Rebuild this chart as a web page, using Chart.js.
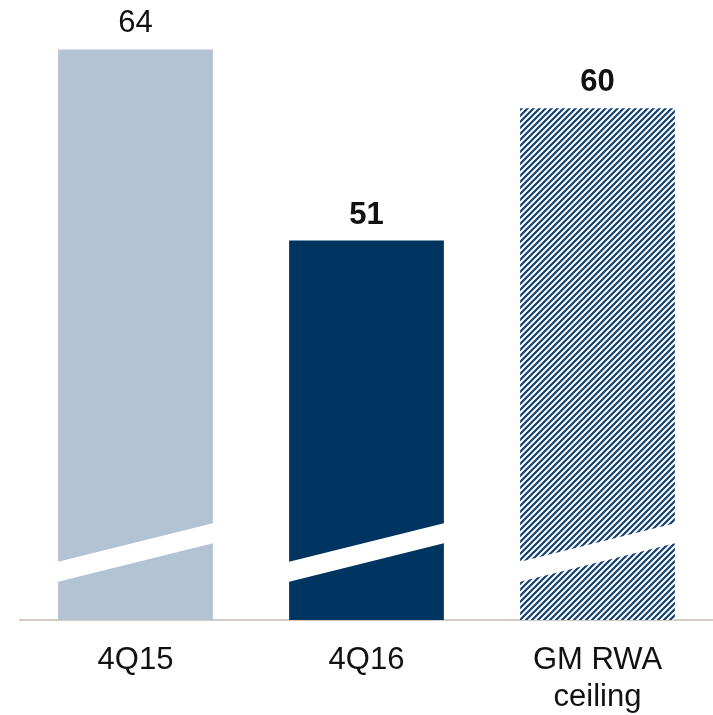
<!DOCTYPE html>
<html>
<head>
<meta charset="utf-8">
<script src="https://cdn.jsdelivr.net/npm/chart.js@4.4.1/dist/chart.umd.min.js"></script>
<style>
  html, body { margin: 0; padding: 0; background: #ffffff; }
  #wrap { width: 713px; height: 715px; }
</style>
</head>
<body>
<div id="wrap"><canvas id="rwaChart"></canvas></div>
<script>
// Dữ liệu biểu đồ
const categories = ['4Q15', '4Q16', ['GM RWA', 'ceiling']];
const values = [64, 51, 60];
const labelBold = [false, true, true];

// Mẫu gạch chéo cho cột cuối
function makeHatch() {
    const n = 6;
    const c = document.createElement('canvas');
    c.width = n;
    c.height = n;
    const g = c.getContext('2d');
    g.fillStyle = '#ffffff';
    g.fillRect(0, 0, n, n);
    g.strokeStyle = '#134272';
    g.lineWidth = 2.2;
    g.beginPath();
    g.moveTo(0, n); g.lineTo(n, 0);
    g.moveTo(-n / 2, n / 2); g.lineTo(n / 2, -n / 2);
    g.moveTo(n / 2, n * 1.5); g.lineTo(n * 1.5, n / 2);
    g.stroke();
    return g.createPattern(c, 'repeat');
}

// Vệt trắng "ngắt trục" gần chân cột
const axisBreak = {
    id: 'axisBreak',
    afterDatasetsDraw(chart) {
        const ctx = chart.ctx;
        const bottom = chart.chartArea.bottom;
        chart.getDatasetMeta(0).data.forEach(function(bar) {
            const l = bar.x - bar.width / 2 - 1;
            const r = bar.x + bar.width / 2 + 1;
            ctx.save();
            ctx.fillStyle = '#ffffff';
            ctx.beginPath();
            ctx.moveTo(l, bottom - 58);
            ctx.lineTo(r, bottom - 97);
            ctx.lineTo(r, bottom - 77);
            ctx.lineTo(l, bottom - 38);
            ctx.closePath();
            ctx.fill();
            ctx.restore();
        });
    }
};

// Nhãn giá trị trên đầu cột
const valueLabels = {
    id: 'valueLabels',
    afterDatasetsDraw(chart) {
        const ctx = chart.ctx;
        const ds = chart.data.datasets[0];
        chart.getDatasetMeta(0).data.forEach(function(bar, i) {
            ctx.save();
            ctx.fillStyle = '#111111';
            ctx.font = (labelBold[i] ? 'bold ' : '') + '31px "Liberation Sans", Arial, sans-serif';
            ctx.textAlign = 'center';
            ctx.textBaseline = 'alphabetic';
            ctx.fillText(String(ds.data[i]), bar.x, bar.y - 17);
            ctx.restore();
        });
    }
};

document.addEventListener('DOMContentLoaded', function() {
    const ctx = document.getElementById('rwaChart');
    new Chart(ctx, {
        type: 'bar',
        data: {
            labels: categories,
            datasets: [{
                data: values,
                backgroundColor: ['#b3c3d3', '#003562', makeHatch()],
                borderWidth: 0,
                categoryPercentage: 1,
                barPercentage: 0.67
            }]
        },
        options: {
            responsive: true,
            maintainAspectRatio: false,
            animation: false,
            layout: {
                padding: { left: 20, right: 0, top: 20, bottom: 0 }
            },
            plugins: {
                legend: { display: false },
                tooltip: { enabled: false }
            },
            scales: {
                x: {
                    grid: { display: false, drawTicks: false },
                    border: { display: true, color: '#d4ccc4', width: 2 },
                    ticks: {
                        color: '#111111',
                        padding: 22,
                        font: { size: 31, family: '"Liberation Sans", Arial, sans-serif', lineHeight: 1.2 }
                    },
                    afterFit: function(scale) {
                        scale.height = 95;
                    }
                },
                y: {
                    display: false,
                    min: 25.2,
                    max: 66
                }
            }
        },
        plugins: [axisBreak, valueLabels]
    });
});
</script>
</body>
</html>
